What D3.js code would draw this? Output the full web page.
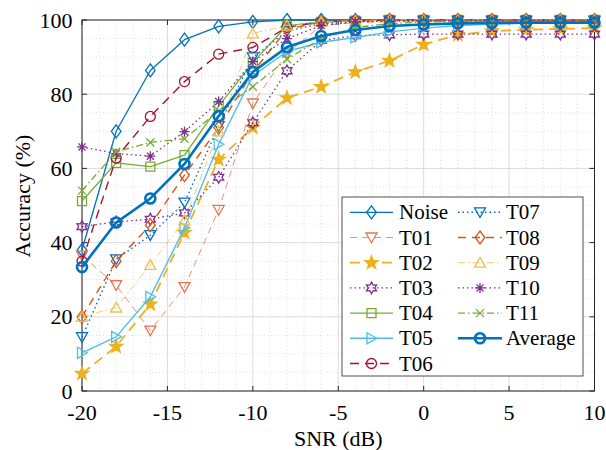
<!DOCTYPE html>
<html><head><meta charset="utf-8">
<script src="https://cdn.jsdelivr.net/npm/d3@7"></script>
</head><body style="margin:0;background:#fff">
<svg id="c" width="606" height="450" font-family="Liberation Serif" style="display:block;font-family:'Liberation Serif',serif"></svg>
<script>
// ---------------- data ----------------
const snr = [-20,-18,-16,-14,-12,-10,-8,-6,-4,-2,0,2,4,6,8,10];
const noise   = [38.0,70.0,86.4,94.7,98.3,99.5,100,100,100,100,100,100,100,100,100,100];
const t01     = [36.5,28.5,16.3,28.0,48.8,77.5,91.0,98.5,99.3,99.5,99.6,99.6,99.6,99.6,99.6,99.6];
const t02     = [4.7,12.0,23.4,42.7,62.4,71.0,79.0,82.0,86.0,89.0,93.4,96.0,97.0,97.4,97.6,97.8];
const t03     = [44.3,45.6,46.3,48.0,57.6,72.3,86.3,94.5,95.8,96.0,96.2,96.2,96.2,96.2,96.2,96.2];
const t04     = [51.2,61.5,60.5,63.6,76.8,88.5,98.5,99.5,99.8,100,100,100,100,100,100,100];
const t05     = [10.3,14.6,25.4,44.0,66.5,85.0,91.5,94.0,95.3,96.8,97.8,98.5,98.9,99.1,99.2,99.3];
const t06     = [35.0,62.8,74.0,83.4,90.8,92.6,98.0,99.5,99.8,100,100,100,100,100,100,100];
const t07     = [14.5,35.5,42.0,50.8,71.4,89.9,97.0,99.0,99.5,99.8,99.8,99.8,99.8,99.8,99.8,99.8];
const t08     = [20.0,35.0,44.7,58.2,71.0,86.0,97.5,99.5,99.8,99.9,99.9,99.9,99.9,99.9,99.9,99.9];
const t09     = [20.0,22.5,34.0,46.0,70.0,96.4,98.5,99.5,99.8,100,100,100,100,100,100,100];
const t10     = [65.8,64.0,63.3,69.9,78.0,88.8,95.0,98.5,99.5,99.8,99.8,99.8,99.8,99.8,99.8,99.8];
const t11     = [54.0,64.5,67.0,68.0,75.5,82.0,89.4,95.0,98.0,99.0,99.5,99.6,99.6,99.6,99.6,99.6];
const average = [33.4,45.4,51.9,61.2,74.1,86.0,92.7,95.7,97.3,98.4,98.8,99.1,99.2,99.3,99.3,99.3];

const seriesNames = ["Noise","T01","T02","T03","T04","T05","T06","T07","T08","T09","T10","T11","Average"];
const seriesValues = [noise,t01,t02,t03,t04,t05,t06,t07,t08,t09,t10,t11,average];
const xTicks = [-20,-15,-10,-5,0,5,10];
const yTicks = [0,20,40,60,80,100];
const xLabel = "SNR (dB)";
const yLabel = "Accuracy (%)";

// ---------------- styles ----------------
const styles = [
  {c:"#0072BD", w:1.3, dash:null,        m:"diamond"},
  {c:"#E27650", w:0.8, dash:"7,5",       m:"tridown"},
  {c:"#EDB120", w:1.8, dash:"10,6",      m:"pentagram"},
  {c:"#7E2F8E", w:1.3, dash:"1.5,3",     m:"hexagram"},
  {c:"#77AC30", w:1.3, dash:null,        m:"square"},
  {c:"#4DBEEE", w:1.4, dash:null,        m:"triright"},
  {c:"#A2142F", w:1.4, dash:"9,6",       m:"circle"},
  {c:"#0072BD", w:1.4, dash:"1.5,3",     m:"tridown"},
  {c:"#D95319", w:1.4, dash:"8,6",       m:"diamond"},
  {c:"#F0BF4C", w:0.8, dash:"7,3,1.5,3", m:"triup"},
  {c:"#7E2F8E", w:1.3, dash:"1.5,3",     m:"asterisk"},
  {c:"#77AC30", w:1.3, dash:"7,3,1.5,3", m:"cross"},
  {c:"#0072BD", w:2.6, dash:null,        m:"circle"}
];

function markerPath(t){
  switch(t){
    case "diamond": return "M0,-6.5L4.8,0L0,6.5L-4.8,0Z";
    case "tridown": return "M-5.5,-4.5L5.5,-4.5L0,5.2Z";
    case "triup":   return "M-5.5,4.5L5.5,4.5L0,-5.2Z";
    case "triright":return "M-4.5,-5.5L-4.5,5.5L5.2,0Z";
    case "square":  return "M-4.5,-4.5L4.5,-4.5L4.5,4.5L-4.5,4.5Z";
    case "circle":  return "M5,0A5,5 0 1,1 -5,0A5,5 0 1,1 5,0Z";
    case "pentagram": {
      let p=[];for(let k=0;k<10;k++){const r=k%2?2.6:6.5;const a=-Math.PI/2+k*Math.PI/5;p.push([r*Math.cos(a),r*Math.sin(a)]);}
      return "M"+p.map(q=>q[0].toFixed(2)+","+q[1].toFixed(2)).join("L")+"Z";
    }
    case "hexagram": {
      let p=[];for(let k=0;k<12;k++){const r=k%2?3.3:5.8;const a=-Math.PI/2+k*Math.PI/6;p.push([r*Math.cos(a),r*Math.sin(a)]);}
      return "M"+p.map(q=>q[0].toFixed(2)+","+q[1].toFixed(2)).join("L")+"Z";
    }
    case "asterisk": {
      let s="";for(let k=0;k<4;k++){const a=k*Math.PI/4;const dx=5*Math.cos(a),dy=5*Math.sin(a);s+="M"+(-dx).toFixed(2)+","+(-dy).toFixed(2)+"L"+dx.toFixed(2)+","+dy.toFixed(2);}
      return s;
    }
    case "cross": return "M-4,-4L4,4M-4,4L4,-4";
  }
}

function txt(parent, size){
  return parent.append("text").attr("font-size",size).attr("font-family","Liberation Serif")
    .style("font-family","Liberation Serif").attr("fill","#000");
}

// ---------------- chart ----------------
const svg = d3.select("#c");
svg.append("rect").attr("width",606).attr("height",450).attr("fill","#fff");
const X0=82, X1=594.5, Y0=20, Y1=391;
const x = d3.scaleLinear().domain([-20,10]).range([X0,X1]);
const y = d3.scaleLinear().domain([0,100]).range([Y1,Y0]);

xTicks.forEach(v=>{ txt(svg,22).attr("x",x(v)).attr("y",420).attr("text-anchor","middle").text(String(v)); });
yTicks.forEach(v=>{ txt(svg,22).attr("x",X0-9.5).attr("y",y(v)+7.5).attr("text-anchor","end").text(String(v)); });
txt(svg,22).attr("x",(X0+X1)/2).attr("y",446).attr("text-anchor","middle").text(xLabel);
txt(svg,22).attr("transform","translate(30,196) rotate(-90)").attr("text-anchor","middle").text(yLabel);

// minor grid
const gMinor = svg.append("g");
d3.range(-20,11,1).filter(v=>v%5!==0).forEach(v=>{
  gMinor.append("line").attr("x1",x(v)).attr("x2",x(v)).attr("y1",Y0).attr("y2",Y1)
    .attr("stroke","#c8c8c8").attr("stroke-width",0.6).attr("stroke-dasharray","1,2.5");
});
d3.range(0,101,5).filter(v=>v%20!==0).forEach(v=>{
  gMinor.append("line").attr("x1",X0).attr("x2",X1).attr("y1",y(v)).attr("y2",y(v))
    .attr("stroke","#c8c8c8").attr("stroke-width",0.6).attr("stroke-dasharray","1,2.5");
});
// major grid
const gMajor = svg.append("g");
xTicks.forEach(v=>{
  gMajor.append("line").attr("x1",x(v)).attr("x2",x(v)).attr("y1",Y0).attr("y2",Y1)
    .attr("stroke","#dcdcdc").attr("stroke-width",1);
});
yTicks.forEach(v=>{
  gMajor.append("line").attr("x1",X0).attr("x2",X1).attr("y1",y(v)).attr("y2",y(v))
    .attr("stroke","#dcdcdc").attr("stroke-width",1);
});

// tick marks (inward, all four sides)
const gTicks = svg.append("g").attr("stroke","#262626").attr("stroke-width",1);
xTicks.forEach(v=>{
  gTicks.append("line").attr("x1",x(v)).attr("x2",x(v)).attr("y1",Y1).attr("y2",Y1-5);
  gTicks.append("line").attr("x1",x(v)).attr("x2",x(v)).attr("y1",Y0).attr("y2",Y0+5);
});
yTicks.forEach(v=>{
  gTicks.append("line").attr("x1",X0).attr("x2",X0+5).attr("y1",y(v)).attr("y2",y(v));
  gTicks.append("line").attr("x1",X1).attr("x2",X1-5).attr("y1",y(v)).attr("y2",y(v));
});
svg.append("rect").attr("x",X0).attr("y",Y0).attr("width",X1-X0).attr("height",Y1-Y0)
  .attr("fill","none").attr("stroke","#262626").attr("stroke-width",1);

// series
const line = d3.line().x((d,i)=>x(snr[i])).y(d=>y(d));
seriesValues.forEach((vals,si)=>{
  const st = styles[si];
  const g = svg.append("g");
  g.append("path").attr("d",line(vals)).attr("fill","none").attr("stroke",st.c)
    .attr("stroke-width",st.w).attr("stroke-dasharray",st.dash).attr("stroke-linejoin","round");
  const mw = si===12?2.6:(st.m==="pentagram"?1.6:1.3);
  g.selectAll("path.m").data(vals).enter().append("path").attr("class","m")
    .attr("transform",(d,i)=>"translate("+x(snr[i])+","+y(d)+")")
    .attr("d",markerPath(st.m))
    .attr("fill",st.m==="pentagram"?st.c:"none")
    .attr("stroke",st.c).attr("stroke-width",mw).attr("stroke-linejoin","miter");
});

// legend
const LX=342, LY=197, LW=241, LH=179;
const lg = svg.append("g");
lg.append("rect").attr("x",LX).attr("y",LY).attr("width",LW).attr("height",LH)
  .attr("fill","#fff").attr("stroke","#262626").attr("stroke-width",0.8);
seriesNames.forEach((name,si)=>{
  const st = styles[si];
  const col = si<7?0:1, row = si<7?si:si-7;
  const cy = 212.3 + row*25.2;
  const lx0 = col? 458:350, lx1 = col?502:393, mx = (lx0+lx1)/2, tx = col?506:399;
  lg.append("line").attr("x1",lx0).attr("x2",lx1).attr("y1",cy).attr("y2",cy)
    .attr("stroke",st.c).attr("stroke-width",st.w).attr("stroke-dasharray",st.dash);
  const mw = si===12?2.6:(st.m==="pentagram"?1.6:1.3);
  lg.append("path").attr("transform","translate("+mx+","+cy+")").attr("d",markerPath(st.m))
    .attr("fill",st.m==="pentagram"?st.c:"none").attr("stroke",st.c).attr("stroke-width",mw);
  txt(lg,21).attr("x",tx).attr("y",cy+7).text(name);
});

// re-apply the font once font machinery is ready (harmless if already applied)
function reapply(){ svg.selectAll("text").style("font-family","'Liberation Serif', serif"); }
if (document.fonts && document.fonts.load) {
  document.fonts.load("22px 'Liberation Serif'").then(reapply).catch(()=>{});
}
setTimeout(reapply, 50);
</script>
</body></html>
